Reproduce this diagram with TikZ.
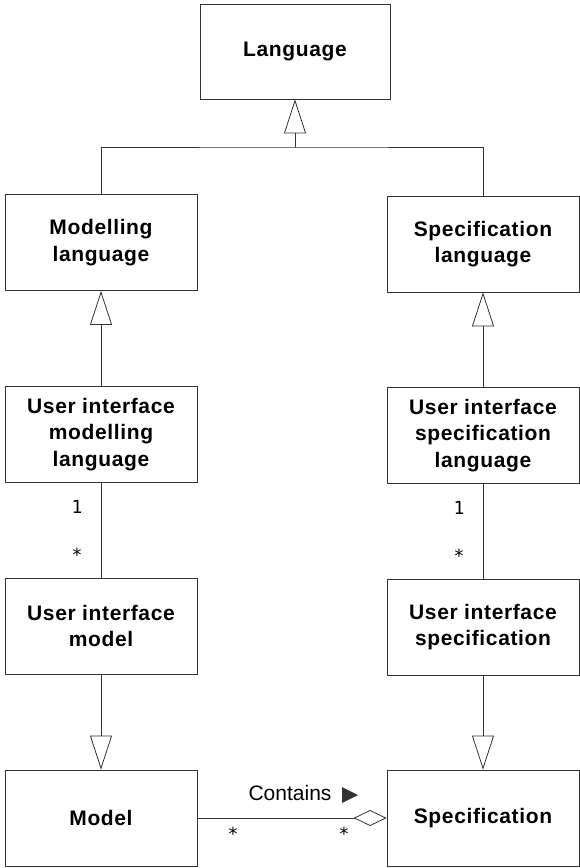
\documentclass[tikz,border=0pt]{standalone}
\usepackage{fontspec}
\setmainfont{Liberation Sans}
\newfontfamily\boxfont[LetterSpace=3]{Liberation Sans}
\newfontfamily\monof{DejaVu Sans Mono}
\usetikzlibrary{arrows.meta}
\begin{document}
\begin{tikzpicture}[x=1pt,y=-1pt,
  cls/.style={draw=black!80, line width=0.8pt, fill=white, minimum width=192pt, minimum height=96pt, inner sep=0pt, align=center, font=\boxfont\bfseries\fontsize{21}{26.7}\selectfont},
  conn/.style={draw=black!80, line width=0.8pt},
  inh/.style={conn, -{Triangle[open, length=34pt, width=22pt]}},
  agg/.style={conn, -{Diamond[open, length=33pt, width=16pt]}},
  mult/.style={font=\monof\fontsize{18}{20}\selectfont, inner sep=0pt},
  lbl/.style={font=\fontsize{21}{25}\selectfont, inner sep=0pt}]
\useasboundingbox (0,0) rectangle (580,868);
\node[cls, minimum width=190pt, minimum height=95pt] (lang) at (295,51.5) {Language};
\node[cls] (modl) at (101,242.5) {Modelling\\language};
\node[cls] (specl) at (483,244) {Specification\\language};
\node[cls] (uiml) at (101,434.5) {User interface\\modelling\\language};
\node[cls] (uisl) at (483,435.5) {User interface\\specification\\language};
\node[cls] (uim) at (101,626) {User interface\\model};
\node[cls] (uis) at (483,627) {User interface\\specification};
\node[cls] (model) at (101,818) {Model};
\node[cls] (spec) at (483,818) {Specification};
\coordinate (j) at (295,147);
\draw[conn] (modl.north) |- (j) -| (specl.north);
\draw[inh] (j) -- (lang.south);
\draw[inh] (uiml.north) -- (modl.south);
\draw[inh] (uisl.north) -- (specl.south);
\draw[conn] (uiml.south) -- (uim.north);
\draw[conn] (uisl.south) -- (uis.north);
\draw[inh] (uim.south) -- (model.north);
\draw[inh] (uis.south) -- (spec.north);
\draw[agg] (model.east) -- (spec.west);
\node[mult] (m1) at (77,507) {1};
\node[mult] (m2) at (77,555) {*};
\node[mult] (m3) at (459,508) {1};
\node[mult] (m4) at (459,556) {*};
\node[mult] (m5) at (233,834) {*};
\node[mult] (m6) at (344,834) {*};
\node[lbl] (contains) at (290,793) {Contains};
\fill[black!80] (342,787) -- (358,795) -- (342,803) -- cycle;
\end{tikzpicture}
\end{document}
